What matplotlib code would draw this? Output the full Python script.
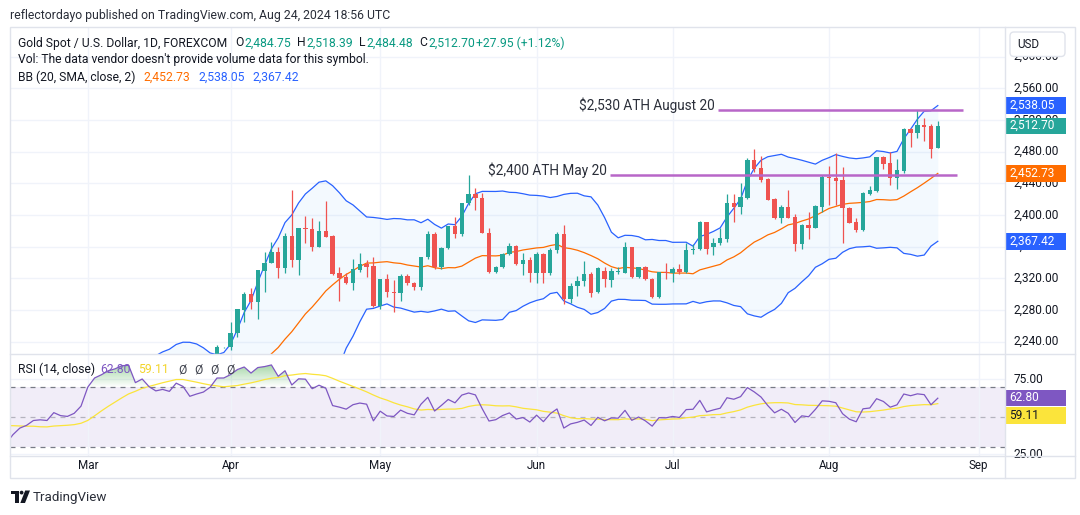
import numpy as np
import pandas as pd
import matplotlib
matplotlib.use("Agg")
import matplotlib.pyplot as plt
from matplotlib.patches import Rectangle, FancyBboxPatch, Polygon, Circle
from matplotlib.transforms import Affine2D, blended_transform_factory
from matplotlib.path import Path
from matplotlib.colors import to_rgb

plt.rcParams['font.family'] = ['Roboto', 'DejaVu Sans']

# ---------------- data (XAUUSD daily, FOREXCOM) ----------------
dates = pd.bdate_range("2024-01-02", "2024-08-23")

opens = [
    2063, 2059, 2042, 2043, 2045, 2028, 2030, 2024, 2029, 2049, 2055, 2028, 2006, 2023, 2029, 2021, 2029, 2014, 2020, 2018, 2033, 2037,
    2039, 2054, 2042, 2031, 2036, 2036, 2035, 2030, 2027, 1995, 1993, 2004, 2013, 2017, 2024, 2025, 2024, 2035, 2031, 2030, 2034,
    2044, 2083, 2114, 2128, 2148, 2159, 2179, 2182, 2158, 2174, 2162, 2155, 2160, 2157, 2186, 2181, 2165, 2172, 2178, 2194, 2232.8,
    2232.8, 2250.5, 2279.9, 2300.2, 2290.5, 2329.6, 2338.9, 2353.2, 2333.4, 2373.4, 2343.1, 2383.1, 2382.3, 2360.0, 2379.7, 2373.4,
    2326.3, 2322.1, 2314.5, 2330.5, 2337.6, 2335.0,
    2285.4, 2319.1, 2303.1, 2301.5, 2323.3, 2313.6, 2309.0, 2346.5, 2376.0, 2334.0, 2357.8, 2386.0, 2375.5, 2414.7, 2426.5, 2421.0,
    2377.6, 2328.4, 2333.8, 2350.3, 2360.8, 2337.6, 2343.1,
    2326.3, 2350.7, 2326.3, 2355.8, 2375.6, 2293.5, 2310.3, 2316.6, 2325.5, 2303.1, 2329.7, 2317.9, 2328.0, 2327.1, 2359.1, 2321.2,
    2333.9, 2319.1, 2296.8, 2327.6,
    2326.3, 2331.3, 2328.4, 2356.0, 2356.6, 2391.6, 2359.1, 2364.2, 2369.7, 2415.5, 2410.5, 2421.9, 2469.4, 2459.0, 2445.5, 2419.8,
    2395.8, 2409.7, 2397.5, 2363.8, 2387.3, 2384.0, 2410.5,
    2448.4, 2446.3, 2444.2, 2409.2, 2391.1, 2381.0, 2426.9, 2430.7, 2473.2, 2465.6, 2447.1, 2455.5, 2509.0, 2504.0, 2513.6, 2512.4,
    2484.75,
]
highs = [
    2079, 2065, 2050, 2064, 2046, 2041, 2040, 2040, 2062, 2059, 2058, 2031, 2025, 2032, 2033, 2031, 2037, 2023, 2026, 2036, 2043, 2056,
    2065, 2065, 2044, 2040, 2039, 2040, 2038, 2034, 2031, 1998, 2006, 2016, 2022, 2031, 2031, 2035, 2041, 2038, 2038, 2038, 2052,
    2088, 2119, 2141, 2153, 2165, 2195, 2189, 2185, 2177, 2175, 2167, 2164, 2163, 2188, 2222, 2183, 2176, 2184, 2195, 2235.8, 2233.5,
    2264.4, 2281.2, 2303.1, 2307.3, 2330.5, 2353.6, 2366.3, 2359.1, 2376.8, 2431.5, 2383.1, 2398.7, 2395.7, 2392.4, 2418.0, 2374.7,
    2334.7, 2326.3, 2344.4, 2351.5, 2343.1, 2347.0,
    2319.5, 2326.0, 2318.0, 2325.0, 2325.0, 2315.0, 2347.0, 2379.7, 2378.0, 2359.0, 2386.5, 2397.8, 2415.5, 2450.5, 2433.6, 2427.3,
    2383.1, 2335.5, 2351.5, 2364.2, 2362.1, 2351.5, 2347.0,
    2353.7, 2351.6, 2358.0, 2378.9, 2387.4, 2313.7, 2323.0, 2342.3, 2328.4, 2334.7, 2334.7, 2332.6, 2334.7, 2366.3, 2359.1, 2334.7,
    2335.5, 2320.0, 2328.4, 2339.8,
    2334.7, 2337.6, 2365.0, 2363.4, 2392.4, 2391.6, 2370.5, 2383.0, 2426.5, 2426.5, 2440.4, 2471.5, 2483.3, 2474.5, 2446.3, 2421.0,
    2412.6, 2431.5, 2401.2, 2388.2, 2404.0, 2412.6, 2450.5,
    2461.9, 2477.9, 2461.0, 2410.0, 2395.8, 2429.0, 2436.6, 2473.5, 2474.9, 2479.1, 2470.7, 2509.5, 2510.3, 2532.6, 2522.1, 2514.5,
    2518.39,
]
lows = [
    2057, 2030, 2035, 2024, 2017, 2026, 2021, 2014, 2027, 2048, 2023, 2002, 2004, 2017, 2016, 2011, 2012, 2009, 2010, 2010, 2030, 2031,
    2035, 2030, 2024, 2027, 2030, 2028, 2022, 2021, 1992, 1985, 1990, 1995, 2011, 2013, 2017, 2020, 2021, 2026, 2025, 2024, 2031,
    2039, 2077, 2114, 2125, 2142, 2154, 2176, 2150, 2155, 2153, 2152, 2146, 2146, 2146, 2166, 2157, 2164, 2170, 2172, 2186, 2232.0,
    2229.4, 2246.3, 2265.2, 2280.8, 2268.2, 2303.1, 2338.9, 2320.0, 2326.3, 2333.8, 2324.2, 2364.2, 2354.9, 2359.1, 2371.8, 2324.2,
    2291.7, 2312.8, 2305.2, 2328.4, 2321.2, 2284.0,
    2281.2, 2296.0, 2278.0, 2292.0, 2311.5, 2305.0, 2305.0, 2344.0, 2331.5, 2332.0, 2356.5, 2371.3, 2373.4, 2412.6, 2406.2, 2376.8,
    2327.1, 2326.3, 2332.6, 2349.4, 2336.8, 2324.2, 2316.0,
    2314.0, 2313.7, 2324.0, 2351.6, 2287.2, 2288.4, 2297.7, 2310.3, 2296.0, 2301.9, 2309.5, 2309.5, 2325.5, 2326.3, 2320.0, 2320.0,
    2317.9, 2295.6, 2295.6, 2319.6,
    2315.5, 2326.0, 2327.0, 2350.7, 2355.8, 2350.3, 2349.5, 2362.0, 2366.3, 2391.5, 2401.7, 2420.2, 2454.7, 2441.2, 2418.5, 2395.0,
    2389.5, 2396.0, 2354.5, 2357.0, 2369.7, 2383.1, 2404.0,
    2412.6, 2412.6, 2365.0, 2389.5, 2379.0, 2380.0, 2425.2, 2429.5, 2458.1, 2437.9, 2432.8, 2452.5, 2486.3, 2496.8, 2493.9, 2471.5,
    2484.48,
]
closes = [
    2059, 2042, 2043, 2045, 2028, 2030, 2024, 2029, 2049, 2055, 2028, 2006, 2023, 2029, 2021, 2029, 2014, 2020, 2018, 2033, 2037, 2039,
    2054, 2042, 2031, 2036, 2036, 2035, 2030, 2027, 1995, 1993, 2004, 2013, 2017, 2024, 2025, 2024, 2035, 2031, 2030, 2034, 2044,
    2083, 2114, 2128, 2148, 2159, 2179, 2182, 2158, 2174, 2162, 2155, 2160, 2157, 2186, 2181, 2165, 2172, 2178, 2194, 2232.8, 2233.0,
    2250.5, 2281.2, 2300.2, 2290.5, 2330.5, 2338.9, 2353.2, 2333.4, 2373.4, 2343.1, 2383.1, 2382.3, 2360.0, 2379.7, 2372.6, 2325.4,
    2320.5, 2314.5, 2331.3, 2337.6, 2334.7, 2285.4,
    2319.1, 2303.1, 2301.5, 2323.3, 2313.6, 2309.0, 2346.5, 2376.0, 2334.0, 2357.8, 2386.0, 2375.5, 2414.7, 2426.5, 2421.0, 2377.6,
    2328.4, 2333.8, 2350.3, 2360.8, 2337.6, 2343.1, 2326.3,
    2350.7, 2326.3, 2355.8, 2375.6, 2293.5, 2310.3, 2316.6, 2325.5, 2301.9, 2333.5, 2318.7, 2329.7, 2329.0, 2359.1, 2321.2, 2333.9,
    2318.7, 2296.8, 2327.6, 2326.8,
    2331.8, 2328.4, 2355.8, 2357.0, 2391.6, 2356.6, 2364.2, 2370.5, 2414.7, 2410.5, 2422.3, 2469.4, 2458.1, 2444.2, 2419.3, 2395.8,
    2409.7, 2396.6, 2363.8, 2387.3, 2384.0, 2411.3, 2448.4,
    2447.0, 2442.9, 2409.2, 2390.3, 2381.0, 2428.2, 2431.5, 2473.2, 2464.8, 2447.1, 2456.8, 2509.0, 2504.0, 2513.6, 2511.5, 2483.8,
    2512.70,
]

month_labels = ["Mar", "Apr", "May", "Jun", "Jul", "Aug", "Sep"]
price_ticks = [2240, 2280, 2320, 2360, 2400, 2440, 2480, 2520, 2560, 2600]
rsi_ticks = [25, 75]
ath_dates = ["2024-05-20", "2024-08-20"]
ath_texts = ["$2,400 ATH May 20", "$2,530 ATH August 20"]
legend_bb = ["2,452.73", "2,538.05", "2,367.42"]
legend_rsi = ["62.80", "59.11"]

# ---------------- indicators ----------------
o = np.array(opens, float); h = np.array(highs, float)
l = np.array(lows, float); c = np.array(closes, float)
n = len(c)
xs = np.arange(n)
cs = pd.Series(c)
basis = cs.rolling(20).mean().values
dev = cs.rolling(20).std(ddof=0).values
upper = basis + 2 * dev
lower = basis - 2 * dev

def rma(vals, length):
    out = np.full(len(vals), np.nan)
    first = 1
    out[first + length - 1] = np.mean(vals[first:first + length])
    for i in range(first + length, len(vals)):
        out[i] = (out[i - 1] * (length - 1) + vals[i]) / length
    return out

d = np.diff(c, prepend=np.nan)
gain = np.where(d > 0, d, 0.0); loss = np.where(d < 0, -d, 0.0)
up = rma(gain, 14); dn = rma(loss, 14)
rsi = 100 - 100 / (1 + up / dn)
rsi_ma = pd.Series(rsi).rolling(14).mean().values

# ---------------- layout ----------------
W, H = 1080, 515
fig = plt.figure(figsize=(W / 100, H / 100), dpi=100)
fig.patch.set_facecolor("white")
PX = Affine2D().scale(1 / W, -1 / H).translate(0, 1) + fig.transFigure

def rect(x0, y0, x1, y1):
    return [x0 / W, 1 - y1 / H, (x1 - x0) / W, (y1 - y0) / H]

dlist = list(dates)
def pos(dstr):
    return dlist.index(pd.Timestamp(dstr))

X_LEFT, X_RIGHT = 10, 1005
bar_px = 6.8
mar1 = pos("2024-03-01")
xlim = (mar1 + (X_LEFT - 87.8) / bar_px, mar1 + (X_RIGHT - 87.8) / bar_px)

ax = fig.add_axes(rect(X_LEFT, 27, X_RIGHT, 354))
axr = fig.add_axes(rect(X_LEFT, 354, X_RIGHT, 455.5))
for a in (ax, axr):
    for s in a.spines.values():
        s.set_visible(False)
    a.set_xlim(*xlim)
    a.tick_params(left=False, bottom=False, right=False, top=False,
                  labelleft=False, labelbottom=False)
ax.set_ylim(2224.5, 2637.4)
axr.set_ylim(24.33, 92.0)

ext = pd.bdate_range("2024-01-02", "2024-09-30")
month_pos = [int(np.where(ext.month == m)[0][0]) for m in [3, 4, 5, 6, 7, 8, 9]]

GRID = "#f0f3fa"
for a in (ax, axr):
    a.set_xticks(month_pos)
    a.grid(True, axis="x", color=GRID, lw=1, zorder=0)
ax.set_yticks(price_ticks)
ax.grid(True, axis="y", color=GRID, lw=1, zorder=0)
axr.set_yticks(rsi_ticks)
axr.grid(True, axis="y", color=GRID, lw=1, zorder=0)
ax.set_axisbelow(True); axr.set_axisbelow(True)

# ---------------- Bollinger Bands ----------------
ax.fill_between(xs, upper, lower, color="#2196f3", alpha=0.05, lw=0, zorder=1)
ax.plot(xs, upper, color="#2962ff", lw=0.9, zorder=2)
ax.plot(xs, lower, color="#2962ff", lw=0.9, zorder=2)
ax.plot(xs, basis, color="#ff6d00", lw=0.9, zorder=2)

# ---------------- candles ----------------
UP, DN = "#26a69a", "#ef5350"
cols = np.where(c >= o, UP, DN)
ax.vlines(xs, l, h, colors=cols, lw=0.9, zorder=3)
bh = np.maximum(np.abs(c - o), 1.0)
ax.bar(xs, bh, bottom=np.minimum(o, c), width=0.64, color=cols, lw=0, zorder=4)

# ---------------- ATH lines ----------------
ATH_COL = "#b866c8"
ath_start = [pos("2024-06-18") - 0.2, pos("2024-07-10") - 0.35]
ath_extra = [2.8, 3.7]   # bars past the last candle
for k, dstr in enumerate(ath_dates):
    lvl = h[pos(dstr)]
    x0 = ath_start[k]
    x1 = (n - 1) + ath_extra[k]
    ax.plot([x0, x1], [lvl, lvl], color=ATH_COL, lw=1.8, zorder=5, solid_capstyle="butt")
    ax.annotate(ath_texts[k], (x0, lvl), xytext=(-2.5, 3.2), textcoords="offset points",
                ha="right", va="center", fontsize=9.8, color="#2a2e39", zorder=6)

# ---------------- RSI panel ----------------
axr.axhspan(30, 70, color="#7e57c2", alpha=0.1, lw=0, zorder=0.5)
axr.axhline(70, color="#787b86", lw=0.9, ls=(0, (4, 4)), zorder=1)
axr.axhline(30, color="#787b86", lw=0.9, ls=(0, (4, 4)), zorder=1)
axr.axhline(50, color="#787b86", lw=0.9, ls=(0, (4, 4)), alpha=0.5, zorder=1)
poly = axr.fill_between(xs, rsi, 70, where=np.nan_to_num(rsi) > 70, interpolate=True,
                        color="none", lw=0)
paths = poly.get_paths()
if paths:
    comp = Path.make_compound_path(*paths)
    g = np.zeros((256, 1, 4))
    g[..., :3] = to_rgb("#4caf50")
    g[:, 0, 3] = np.linspace(0, 1, 256)
    im = axr.imshow(g, extent=[xlim[0], xlim[1], 70, 100], origin="lower",
                    aspect="auto", zorder=1.2, interpolation="bilinear")
    im.set_clip_path(comp, transform=axr.transData)
axr.set_xlim(*xlim); axr.set_ylim(24.33, 92.0)
axr.plot(xs, rsi_ma, color="#fbe43b", lw=0.9, zorder=2)
axr.plot(xs, rsi, color="#7e57c2", lw=0.9, zorder=3)

# ---------------- frame / separators ----------------
BORDER = "#e0e3eb"
fig.add_artist(Rectangle((10, 27), 1065, 451, transform=PX, fill=False, ec=BORDER, lw=1))
for seg in [((1005, 27), (1005, 478)), ((10, 354), (1075, 354)), ((10, 455.5), (1075, 455.5))]:
    fig.add_artist(plt.Line2D([seg[0][0], seg[1][0]], [seg[0][1], seg[1][1]],
                              transform=PX, color=BORDER, lw=1))

# ---------------- right price axis ----------------
TXT = "#131722"
bt = blended_transform_factory(ax.transAxes, ax.transData)
for p in price_ticks:
    ax.text(1.0085, p, f"{p:,.2f}", transform=bt, va="center", ha="left",
            fontsize=8.6, color=TXT, clip_on=False, zorder=7)

def tag(a, trans, yv, txt, fc, tc, hgt):
    a.add_patch(Rectangle((1.0005, yv - hgt / 2), 0.0605, hgt, transform=trans,
                          fc=fc, ec="none", clip_on=False, zorder=8))
    a.text(1.0045, yv, txt, transform=trans, va="center", ha="left",
           fontsize=8.6, color=tc, clip_on=False, zorder=9)

ph = 16.5 / 0.7919
tag(ax, bt, upper[-1], legend_bb[1], "#2962ff", "white", ph)
tag(ax, bt, c[-1], f"{c[-1]:,.2f}", "#26a69a", "white", ph)
tag(ax, bt, basis[-1], legend_bb[0], "#ff6d00", "white", ph)
tag(ax, bt, lower[-1], legend_bb[2], "#2962ff", "white", ph)

# USD button
fig.add_artist(FancyBboxPatch((1010, 32), 55, 24.5, boxstyle="round,pad=0,rounding_size=4",
                              transform=PX, fc="white", ec=BORDER, lw=1, zorder=10))
fig.text(1017 / W, 1 - 44.5 / H, "USD", fontsize=8.4, color=TXT, va="center", ha="left", zorder=11)

# RSI axis labels (clipped to the RSI pane)
btr = blended_transform_factory(axr.transAxes, axr.transData)
clip = Rectangle((1005 / W, 1 - 455.5 / H), 70 / W, 101.5 / H, transform=fig.transFigure)
for v in rsi_ticks:
    t = axr.text(1.0085, v, f"{v:.2f}", transform=btr, va="center", ha="left",
                 fontsize=8.6, color=TXT, clip_on=False, zorder=7)
    t.set_clip_path(clip)
rh = 16.5 / 1.5
rv = float(legend_rsi[0])
tag(axr, btr, rv, legend_rsi[0], "#7e57c2", "white", rh)
tag(axr, btr, rv - 1.06 * rh, legend_rsi[1], "#fbe43b", TXT, rh)

# time axis
tt = blended_transform_factory(axr.transData, fig.transFigure)
for mp, lab in zip(month_pos, month_labels):
    axr.text(mp, 1 - 465.5 / H, lab, transform=tt, ha="center", va="center",
             fontsize=8.4, color=TXT, clip_on=False)

# ---------------- header texts ----------------
def ftext(x, y, s, **kw):
    kw.setdefault("fontsize", 8.7)
    kw.setdefault("color", TXT)
    fig.text(x / W, 1 - y / H, s, va="center", ha="left", **kw)

ftext(10, 15.5, "reflectordayo published on TradingView.com, Aug 24, 2024 18:56 UTC", fontsize=8.8, color="#2a2e39")
GREENT = "#089981"
ftext(18, 43, "Gold Spot / U.S. Dollar, 1D, FOREXCOM")
for lab, val, xl, xv in [("O", "2,484.75", 235.5, 244), ("H", "2,518.39", 297.5, 306.5),
                         ("L", "2,484.48", 359.5, 366.5), ("C", "2,512.70", 419.5, 428)]:
    ftext(xl, 43, lab)
    ftext(xv, 43, val, color=GREENT)
ftext(476, 43, "+27.95 (+1.12%)", color=GREENT)
ftext(18, 60, "Vol: The data vendor doesn't provide volume data for this symbol.")
ftext(18, 77.5, "BB (20, SMA, close, 2)")
ftext(143.5, 77.5, legend_bb[0], color="#ff6d00")
ftext(198, 77.5, legend_bb[1], color="#2962ff")
ftext(252, 77.5, legend_bb[2], color="#2962ff")

ftext(18, 369.5, "RSI (14, close)")
ftext(100, 369.5, legend_rsi[0], color="#7e57c2")
ftext(138.5, 369.5, legend_rsi[1], color="#f2d42a")
for xz in (178, 194, 210, 226):
    ftext(xz, 369.5, "Ø", color="#434651")

# ---------------- TradingView logo ----------------
logo_col = "#131722"
fig.add_artist(Polygon([(11, 490.5), (19, 490.5), (19, 503), (15.3, 503), (15.3, 494.3), (11, 494.3)],
                       closed=True, transform=PX, fc=logo_col, ec="none"))
fig.add_artist(Circle((21.6, 492.6), 1.9, transform=PX, fc=logo_col, ec="none"))
fig.add_artist(Polygon([(25.2, 490.5), (30, 490.5), (25, 503), (20.3, 503)],
                       closed=True, transform=PX, fc=logo_col, ec="none"))
ftext(33, 497, "TradingView", fontsize=9.6, color="#2a2e39")

fig.savefig("out.png", dpi=100, facecolor="white")
